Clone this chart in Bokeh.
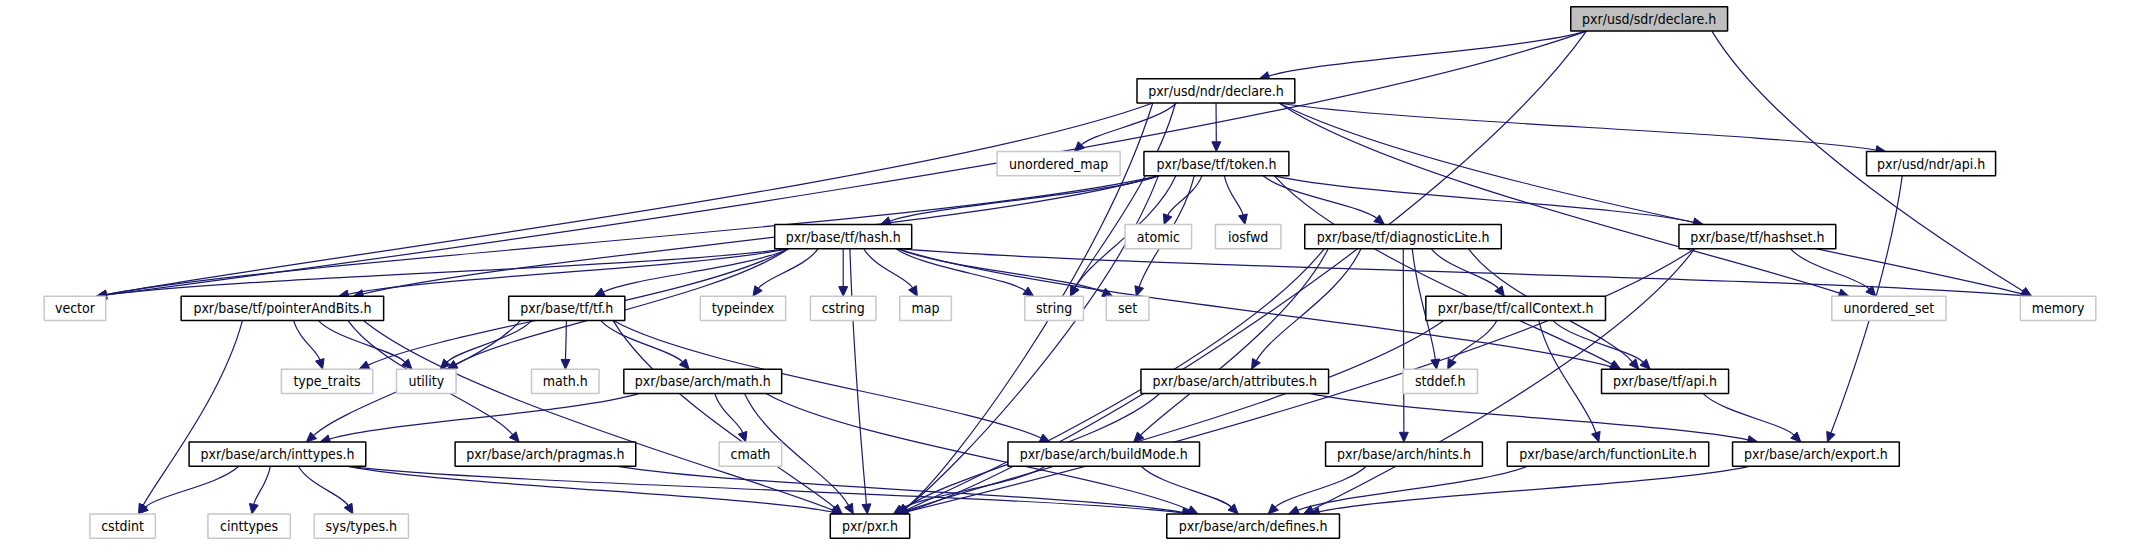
from bokeh.plotting import figure
from bokeh.models import Range1d
from bokeh.core.properties import value
from bokeh.embed import file_html
from bokeh.resources import INLINE

# include graph: node labels and which are system headers (gray)
nodes = ["pxr/usd/sdr/declare.h", "pxr/usd/ndr/declare.h", "unordered_map", "pxr/base/tf/token.h",
         "pxr/usd/ndr/api.h", "pxr/base/tf/hash.h", "atomic", "iosfwd", "pxr/base/tf/diagnosticLite.h",
         "pxr/base/tf/hashset.h", "vector", "pxr/base/tf/pointerAndBits.h", "pxr/base/tf/tf.h",
         "typeindex", "cstring", "map", "string", "set", "pxr/base/tf/callContext.h", "unordered_set",
         "memory", "type_traits", "utility", "math.h", "pxr/base/arch/math.h", "stddef.h",
         "pxr/base/tf/api.h", "pxr/base/arch/attributes.h", "pxr/base/arch/inttypes.h",
         "pxr/base/arch/pragmas.h", "cmath", "pxr/base/arch/buildMode.h", "pxr/base/arch/hints.h",
         "pxr/base/arch/functionLite.h", "pxr/base/arch/export.h", "cstdint", "cinttypes",
         "sys/types.h", "pxr/pxr.h", "pxr/base/arch/defines.h"]
system = {"unordered_map", "atomic", "iosfwd", "vector", "typeindex", "cstring", "map", "string",
          "set", "unordered_set", "memory", "type_traits", "utility", "math.h", "stddef.h", "cmath",
          "cstdint", "cinttypes", "sys/types.h"}

edges = {
    "pxr/usd/sdr/declare.h": ["pxr/usd/ndr/declare.h", "vector", "memory", "pxr/pxr.h"],
    "pxr/usd/ndr/declare.h": ["unordered_map", "pxr/base/tf/token.h", "string", "memory", "unordered_set",
                              "pxr/usd/ndr/api.h", "vector", "pxr/pxr.h"],
    "pxr/base/tf/token.h": ["vector", "pxr/pxr.h", "pxr/base/tf/pointerAndBits.h", "pxr/base/tf/hash.h",
                            "string", "set", "atomic", "iosfwd", "pxr/base/tf/diagnosticLite.h",
                            "pxr/base/tf/api.h", "pxr/base/tf/hashset.h"],
    "pxr/base/tf/hash.h": ["vector", "pxr/base/tf/pointerAndBits.h", "type_traits", "utility",
                           "pxr/base/tf/tf.h", "pxr/pxr.h", "typeindex", "cstring", "map", "string",
                           "set", "memory", "pxr/base/tf/api.h"],
    "pxr/base/tf/pointerAndBits.h": ["type_traits", "utility", "cstdint", "pxr/pxr.h", "pxr/base/arch/pragmas.h"],
    "pxr/base/tf/tf.h": ["utility", "math.h", "pxr/base/arch/math.h", "pxr/base/arch/inttypes.h",
                         "pxr/pxr.h", "pxr/base/arch/buildMode.h"],
    "pxr/base/arch/math.h": ["pxr/base/arch/inttypes.h", "cmath", "pxr/pxr.h", "pxr/base/arch/defines.h"],
    "pxr/base/arch/inttypes.h": ["cstdint", "cinttypes", "sys/types.h", "pxr/pxr.h", "pxr/base/arch/defines.h"],
    "pxr/base/arch/pragmas.h": ["pxr/base/arch/defines.h"],
    "pxr/base/tf/diagnosticLite.h": ["pxr/pxr.h", "pxr/base/arch/buildMode.h", "pxr/base/arch/attributes.h",
                                     "pxr/base/arch/hints.h", "stddef.h", "pxr/base/tf/callContext.h",
                                     "pxr/base/tf/api.h"],
    "pxr/base/tf/callContext.h": ["stddef.h", "pxr/base/tf/api.h", "pxr/base/arch/functionLite.h", "pxr/pxr.h"],
    "pxr/base/tf/hashset.h": ["unordered_set", "pxr/pxr.h", "pxr/base/arch/defines.h"],
    "pxr/base/arch/attributes.h": ["pxr/pxr.h", "pxr/base/arch/export.h"],
    "pxr/base/tf/api.h": ["pxr/base/arch/export.h"],
    "pxr/usd/ndr/api.h": ["pxr/base/arch/export.h"],
    "pxr/base/arch/buildMode.h": ["pxr/pxr.h", "pxr/base/arch/defines.h"],
    "pxr/base/arch/hints.h": ["pxr/base/arch/defines.h"],
    "pxr/base/arch/functionLite.h": ["pxr/base/arch/defines.h"],
    "pxr/base/arch/export.h": ["pxr/base/arch/defines.h"],
}

# layout (pixels): left, right, row index
row_y = [19, 93, 168, 243, 317, 392, 467, 541]
layout = {
    "pxr/usd/sdr/declare.h": (1582, 1740, 0), "pxr/usd/ndr/declare.h": (1145, 1304, 1),
    "unordered_map": (1004, 1128, 2), "pxr/base/tf/token.h": (1152, 1298, 2), "pxr/usd/ndr/api.h": (1880, 2010, 2),
    "pxr/base/tf/hash.h": (780, 918, 3), "atomic": (1133, 1200, 3), "iosfwd": (1224, 1290, 3),
    "pxr/base/tf/diagnosticLite.h": (1314, 1512, 3), "pxr/base/tf/hashset.h": (1691, 1849, 3),
    "vector": (44, 106, 4), "pxr/base/tf/pointerAndBits.h": (182, 386, 4), "pxr/base/tf/tf.h": (512, 629, 4),
    "typeindex": (705, 791, 4), "cstring": (816, 882, 4), "map": (906, 958, 4), "string": (1032, 1091, 4),
    "set": (1114, 1157, 4), "pxr/base/tf/callContext.h": (1436, 1617, 4), "unordered_set": (1845, 1960, 4),
    "memory": (2035, 2111, 4),
    "type_traits": (283, 375, 5), "utility": (399, 459, 5), "math.h": (535, 603, 5),
    "pxr/base/arch/math.h": (628, 787, 5), "stddef.h": (1413, 1488, 5), "pxr/base/tf/api.h": (1613, 1741, 5),
    "pxr/base/arch/attributes.h": (1149, 1338, 5),
    "pxr/base/arch/inttypes.h": (190, 368, 6), "pxr/base/arch/pragmas.h": (458, 640, 6), "cmath": (724, 787, 6),
    "pxr/base/arch/buildMode.h": (1015, 1208, 6), "pxr/base/arch/hints.h": (1335, 1493, 6),
    "pxr/base/arch/functionLite.h": (1518, 1721, 6), "pxr/base/arch/export.h": (1745, 1913, 6),
    "cstdint": (90, 156, 7), "cinttypes": (209, 292, 7), "sys/types.h": (316, 411, 7),
    "pxr/pxr.h": (836, 916, 7), "pxr/base/arch/defines.h": (1175, 1349, 7),
}
H = 25
EDGE = "#191970"

p = figure(width=2139, height=544, output_backend="svg", toolbar_location=None,
           x_range=Range1d(0, 2155), y_range=Range1d(560, 0), min_border=0)
p.axis.visible = False
p.grid.visible = False
p.outline_line_color = None

# count incoming edges per target to spread arrival points
incoming = {}
for src, targets in edges.items():
    for t in targets:
        incoming.setdefault(t, []).append(src)

bx0, by0, bx1, by1, bcx0, bcy0, bcx1, bcy1 = [], [], [], [], [], [], [], []
tri_x, tri_y = [], []
for src, targets in edges.items():
    sl, sr, srow = layout[src]
    sc = (sl + sr) / 2
    for t in targets:
        tl, tr, trow = layout[t]
        tc = (tl + tr) / 2
        # start point leans towards the target
        half_s = (sr - sl) / 2 * 0.8
        x0 = sc + max(-half_s, min(half_s, (tc - sc) * 0.25))
        y0 = row_y[srow] + H / 2
        # arrival point leans towards the source
        half_t = (tr - tl) / 2 * 0.7
        x1 = tc + max(-half_t, min(half_t, (sc - tc) * 0.1))
        y1 = row_y[trow] - H / 2
        dy = y1 - y0
        c0 = (x0 + (x1 - x0) * 0.2, y0 + dy * 0.4)
        c1 = (x1 - (x1 - x0) * 0.2, y1 - min(dy * 0.4, 40))
        dx, ddy = x1 - c1[0], y1 - c1[1]
        n = (dx * dx + ddy * ddy) ** 0.5 or 1
        ux, uy = dx / n, ddy / n
        L, W = 10, 4.5
        ex, ey = x1 - ux * L, y1 - uy * L
        bx0.append(x0); by0.append(y0); bx1.append(ex); by1.append(ey)
        bcx0.append(c0[0]); bcy0.append(c0[1]); bcx1.append(c1[0]); bcy1.append(c1[1])
        tri_x.append([x1, ex - uy * W, ex + uy * W])
        tri_y.append([y1, ey + ux * W, ey - ux * W])

p.bezier(x0=bx0, y0=by0, x1=bx1, y1=by1, cx0=bcx0, cy0=bcy0, cx1=bcx1, cy1=bcy1,
         line_color=EDGE, line_width=1.2)
p.patches(tri_x, tri_y, fill_color=EDGE, line_color=EDGE)

# boxes
for name in nodes:
    l, r, row = layout[name]
    yc = row_y[row]
    gray = name in system
    fill = "#bfbfbf" if name == "pxr/usd/sdr/declare.h" else "white"
    p.quad(left=l, right=r, top=yc - H / 2, bottom=yc + H / 2, fill_color=fill,
           line_color="#c8c8c8" if gray else "black", line_width=1.5)
    p.text(x=[(l + r) / 2], y=[yc], text=[name], text_align="center", text_baseline="middle",
           text_font=value("DejaVu Sans Condensed, DejaVu Sans"), text_font_size="14px", text_color="black")

open("out.html", "w").write(file_html(p, INLINE))
